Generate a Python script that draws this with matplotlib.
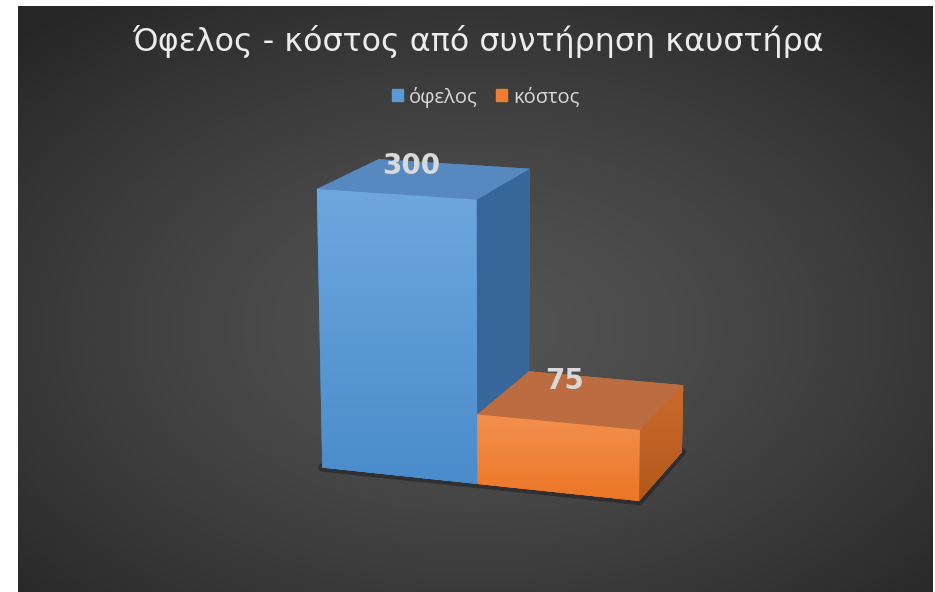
import numpy as np
import matplotlib.pyplot as plt
from matplotlib.patches import Patch
from matplotlib.path import Path
from matplotlib.colors import to_rgb
from mpl_toolkits.mplot3d import proj3d

# data
series = ['όφελος', 'κόστος']
values = [300, 75]
title = 'Όφελος - κόστος από συντήρηση καυστήρα'

front_top = ['#6ea7dd', '#f3904f']
front_bottom = ['#4a8ccc', '#ec7626']
top_colors = ['#5788bf', '#bb6c40']
side_colors = ['#37679a', '#c3662a']
legend_colors = ['#5b9bd5', '#ed7d31']

W, H = 935, 592
fig = plt.figure(figsize=(W / 100, H / 100), dpi=100)
fig.patch.set_facecolor('white')

# dark panel with a soft radial gradient
pw, ph = 933 - 18, 592 - 6
yy, xx = np.mgrid[0:1:ph * 1j, 0:1:pw * 1j]
r = np.sqrt((xx - 0.5) ** 2 + (yy - 0.55) ** 2) / np.sqrt(0.5)
shade = 0.33 - 0.18 * np.clip(r, 0, 1) ** 1.3
fig.figimage(np.dstack([shade] * 3), xo=18, yo=0, origin='upper', zorder=-1)

# 3d bars
ax = fig.add_axes([0.2144, 0.0608, 0.636, 0.764], projection='3d', computed_zorder=False)
ax.set_facecolor('none')
ax.set_proj_type('persp', focal_length=1.0)
depth = 1.0
# soft shadow along the floor edges
ax.plot([0, 2, 2], [0, 0, depth], [0, 0, 0], color='black', lw=6,
        alpha=0.3, zorder=1, solid_capstyle='round')
for i, v in enumerate(values):
    # face order: -z, +z, -y, +y, -x, +x
    cols = [front_bottom[i], top_colors[i], front_bottom[i],
            front_bottom[i], side_colors[i], side_colors[i]]
    ax.bar3d(i, 0, 0, 1, depth, v, color=cols, shade=False, zorder=2 + i)
    ax.text(i + 0.28, depth * 0.85, v, str(v), ha='center', va='center',
            fontsize=20, fontweight='bold', color='#d9d9d9', zorder=10)

ax.set_xlim(0, 2)
ax.set_ylim(0, 1)
ax.set_zlim(0, 300)
ax.set_box_aspect((2, 1, 1.73))
ax.view_init(elev=14.5, azim=-71.5)
ax.set_axis_off()

fig.text(0.511, 1 - 42 / H, title, ha='center', va='center', fontsize=22.9,
         color='#ececec', family='DejaVu Sans')

handles = [Patch(color=c) for c in legend_colors]
fig.legend(handles, series, loc='center', bbox_to_anchor=(485.5 / W, 1 - 97 / H),
           ncol=2, frameon=False, handlelength=0.55, handleheight=0.55,
           handletextpad=0.3, columnspacing=0.9, labelcolor='#d9d9d9',
           prop={'family': 'Open Sans', 'size': 14.5})

# vertical gradient on the visible front faces (and the orange side)
fig.canvas.draw()
pos = ax.get_position()
over = fig.add_axes(pos.bounds, zorder=5)
over.set_axis_off()
over.patch.set_alpha(0)


def shade_face(xs, ys, zs, c_top, c_bottom):
    px, py, _ = proj3d.proj_transform(np.array(xs, float), np.array(ys, float),
                                      np.array(zs, float), ax.M)
    verts = np.column_stack([px, py])
    disp = ax.transData.transform(verts)
    fx = disp[:, 0] / fig.bbox.width
    fy = disp[:, 1] / fig.bbox.height
    t = np.linspace(0, 1, 64)[:, None, None]
    rgb = (1 - t) * np.array(to_rgb(c_top)) + t * np.array(to_rgb(c_bottom))
    im = over.imshow(rgb, extent=(fx.min(), fx.max(), fy.min(), fy.max()),
                     aspect='auto', origin='upper', interpolation='bilinear')
    im.set_clip_path(Path(verts), ax.transData)


for i, v in enumerate(values):
    shade_face([i, i + 1, i + 1, i], [0, 0, 0, 0], [0, 0, v, v],
               front_top[i], front_bottom[i])
shade_face([2, 2, 2, 2], [0, depth, depth, 0], [0, 0, values[1], values[1]],
           '#c96b2c', '#b3581b')
over.set_xlim(pos.x0, pos.x1)
over.set_ylim(pos.y0, pos.y1)

fig.savefig('out.png', dpi=100, facecolor=fig.get_facecolor())
